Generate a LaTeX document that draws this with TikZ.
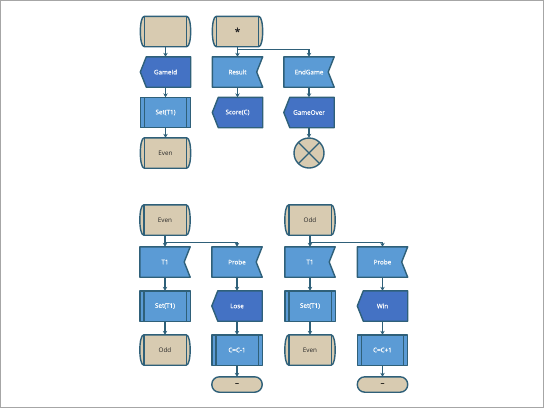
\documentclass[tikz,border=0pt]{standalone}
\usepackage{fontspec}
\setmainfont{Open Sans}
\newfontfamily\lblfont[FakeBold=0.4]{Open Sans}
\newfontfamily\dashfont[FakeBold=1.2]{Open Sans}
\usetikzlibrary{arrows.meta,backgrounds,calc}
\definecolor{edgec}{HTML}{2F6079}
\definecolor{tanf}{HTML}{D8CBB1}
\definecolor{lblue}{HTML}{5B9BD5}
\definecolor{dblue}{HTML}{4472C4}
\definecolor{framec}{HTML}{A6A6A6}
\tikzset{
  shp/.style={draw=edgec, line width=1.4pt, line join=round},
  nd/.style={rectangle, minimum width=50pt, minimum height=30pt, inner sep=0pt, text=white, font=\lblfont\fontsize{6.3}{7}\selectfont},
  ndstate/.style={nd, text=black!85, font=\fontsize{6.3}{7}\selectfont},
  ndstop/.style={nd, minimum height=15pt, text=black, font=\dashfont\fontsize{7.5}{7}\selectfont},
  ndend/.style={circle, minimum size=30pt, inner sep=0pt},
  arr/.style={draw=edgec, line width=1.4pt, -{Stealth[length=4pt,width=4.5pt]}},
}
\newcommand\sdlstate[1]{%
  \path[shp,fill=tanf] ($(#1.north west)+(4,0)$) -- ($(#1.north east)+(-4,0)$)
    .. controls ($(#1.north east)+(1.3,0)$) and ($(#1.south east)+(1.3,0)$) .. ($(#1.south east)+(-4,0)$)
    -- ($(#1.south west)+(4,0)$)
    .. controls ($(#1.south west)+(-1.3,0)$) and ($(#1.north west)+(-1.3,0)$) .. ($(#1.north west)+(4,0)$) -- cycle;
  \draw[shp] ($(#1.north west)+(4,0)$) -- ($(#1.south west)+(4,0)$)
    ($(#1.north east)+(-4,0)$) -- ($(#1.south east)+(-4,0)$);}
\newcommand\sdlin[1]{%
  \path[shp,fill=lblue] (#1.north west) -- (#1.north east) -- ($(#1.east)+(-6,0)$) -- (#1.south east) -- (#1.south west) -- cycle;}
\newcommand\sdlout[1]{%
  \path[shp,fill=dblue] ($(#1.north west)+(6,0)$) -- (#1.north east) -- (#1.south east) -- ($(#1.south west)+(6,0)$) -- (#1.west) -- cycle;}
\newcommand\sdltask[1]{%
  \path[shp,fill=lblue] (#1.north west) rectangle (#1.south east);
  \draw[shp] ($(#1.north west)+(4,0)$) -- ($(#1.south west)+(4,0)$)
    ($(#1.north east)+(-4,0)$) -- ($(#1.south east)+(-4,0)$);}
\newcommand\sdlstop[1]{%
  \path[shp,fill=tanf,rounded corners=7.5pt] (#1.north west) rectangle (#1.south east);}
\newcommand\sdlend[1]{%
  \path[shp,fill=tanf] (#1.center) circle[radius=15pt];
  \draw[shp] (#1.north west) -- (#1.south east) (#1.north east) -- (#1.south west);}
\begin{document}
\begin{tikzpicture}[x=1pt,y=-1pt]
\useasboundingbox (0,0) rectangle (544,408);
% top group
\node[ndstate] (s0) at (165.5,31.5) {};
\node[nd] (gid) at (165.5,72) {GameId};
\node[nd] (set0) at (165.5,112.5) {Set(T1)};
\node[ndstate] (even0) at (165.5,153) {Even};
\node[ndstate, font=\lblfont\fontsize{10}{10}\selectfont] (star) at (237.5,31.5) {*};
\node[nd] (res) at (237.5,72) {Result};
\node[nd] (score) at (237.5,112.5) {Score(C)};
\node[nd] (eg) at (309,72) {EndGame};
\node[nd] (go) at (309,112.5) {GameOver};
\node[ndend] (fin) at (309,153) {};
% bottom group 1
\node[ndstate] (even1) at (165,220) {Even};
\node[nd] (t1a) at (165,262) {T1};
\node[nd] (set1) at (165,306) {Set(T1)};
\node[ndstate] (odd1) at (165,350) {Odd};
\node[nd] (probe1) at (237,262) {Probe};
\node[nd] (lose) at (237,306) {Lose};
\node[nd] (cm) at (237,350) {C=C-1};
\node[ndstop] (dash1) at (237,384.5) {–};
% bottom group 2
\node[ndstate] (odd2) at (310,220) {Odd};
\node[nd] (t1b) at (310,262) {T1};
\node[nd] (set2) at (310,306) {Set(T1)};
\node[ndstate] (even2) at (310,350) {Even};
\node[nd] (probe2) at (382.5,262) {Probe};
\node[nd] (win) at (382.5,306) {Win};
\node[nd] (cp) at (382.5,350) {C=C+1};
\node[ndstop] (dash2) at (382.5,384.5) {–};
\begin{scope}[on background layer]
  \draw[framec, line width=1pt] (0.5,0.5) rectangle (543.5,407.5);
  \sdlstate{s0} \sdlout{gid} \sdltask{set0} \sdlstate{even0}
  \sdlstate{star} \sdlin{res} \sdlout{score}
  \sdlin{eg} \sdlout{go} \sdlend{fin}
  \sdlstate{even1} \sdlin{t1a} \sdltask{set1} \sdlstate{odd1}
  \sdlin{probe1} \sdlout{lose} \sdltask{cm} \sdlstop{dash1}
  \sdlstate{odd2} \sdlin{t1b} \sdltask{set2} \sdlstate{even2}
  \sdlin{probe2} \sdlout{win} \sdltask{cp} \sdlstop{dash2}
\end{scope}
% connectors
\draw[arr] (s0) -- (gid);
\draw[arr] (gid) -- (set0);
\draw[arr] (set0) -- (even0);
\draw[arr] (star) -- (res);
\draw[arr] (star.south) -- ++(0,2.5) -| (eg.north);
\draw[arr] (res) -- (score);
\draw[arr] (eg) -- (go);
\draw[arr] (go) -- (fin);
\draw[arr] (even1) -- (t1a);
\draw[arr] (even1.south) -- ++(0,7) -| (probe1.north);
\draw[arr] (t1a) -- (set1);
\draw[arr] (set1) -- (odd1);
\draw[arr] (probe1) -- (lose);
\draw[arr] (lose) -- (cm);
\draw[arr] (cm) -- (dash1);
\draw[arr] (odd2) -- (t1b);
\draw[arr] (odd2.south) -- ++(0,7) -| (probe2.north);
\draw[arr] (t1b) -- (set2);
\draw[arr] (set2) -- (even2);
\draw[arr] (probe2) -- (win);
\draw[arr] (win) -- (cp);
\draw[arr] (cp) -- (dash2);
\end{tikzpicture}
\end{document}
